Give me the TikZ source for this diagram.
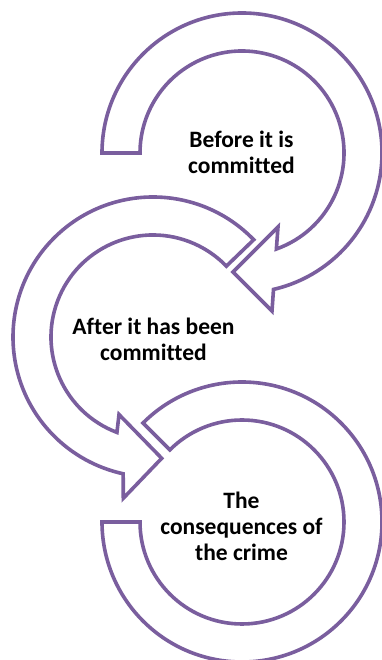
\documentclass[tikz,border=0pt]{standalone}
\usepackage{fontspec}
\setmainfont{Carlito}[Ligatures=NoCommon]
\definecolor{arrowpurple}{RGB}{122,94,158}
\begin{document}
\begin{tikzpicture}[x=1pt,y=1pt,
  arrowband/.style={draw=arrowpurple,line width=3.6pt,fill=white,line join=miter,miter limit=6},
  txt/.style={font=\bfseries\fontsize{23.5}{26}\selectfont,align=center,inner sep=0pt,text=black}]
\useasboundingbox (0,0) rectangle (382,660);
% arrow 1 (top)
\begin{scope}[shift={(242,507)}]
\draw[arrowband] (180:140) arc[start angle=180,end angle=-77,radius=140]
  -- (30,-158) -- (-9,-119) -- (36,-74) -- (-70.3:102)
  arc[start angle=-70.3,end angle=180,radius=102] -- cycle;
\end{scope}
% arrow 2 (middle)
\begin{scope}[shift={(153,323)}]
\draw[arrowband] (44:140) arc[start angle=44,end angle=257.7,radius=140]
  -- (-29.7,-161.3) -- (8.7,-121.3) -- (-34,-77.5) -- (249.3:102)
  arc[start angle=249.3,end angle=44,radius=102] -- cycle;
\end{scope}
% arrow 3 (bottom)
\begin{scope}[shift={(242,138)}]
\draw[arrowband] (135:140) arc[start angle=135,end angle=-180,radius=140]
  -- (180:102) arc[start angle=-180,end angle=135,radius=102] -- cycle;
\end{scope}
\node[txt] (before) at (241.5,507.5) {Before it is\\committed};
\node[txt] (after) at (153.5,321) {After it has been\\committed};
\node[txt] (conseq) at (241.5,134) {The\\consequences of\\the crime};
\end{tikzpicture}
\end{document}
